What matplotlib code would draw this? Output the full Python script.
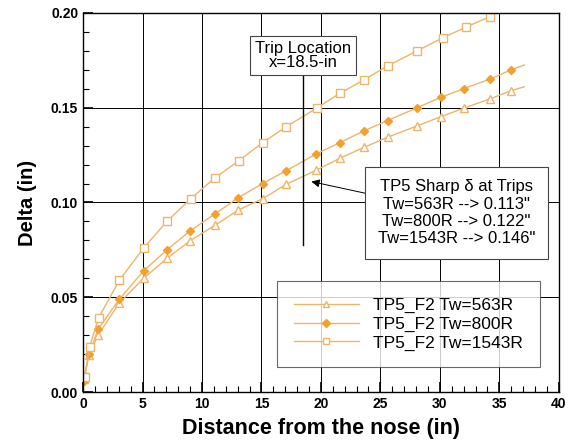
import numpy as np
import matplotlib.pyplot as plt

plt.rcParams['font.family'] = ['Liberation Sans', 'DejaVu Sans']

# Donnees
x_sq = [0.15, 0.55, 1.3, 3.05, 5.1, 7.05, 9.05, 11.1, 13.1, 15.1, 17.1, 19.7,
        21.6, 23.6, 25.6, 28.1, 30.3, 32.2, 34.2, 37.0]
y_sq = [0.008, 0.024, 0.039, 0.059, 0.076, 0.090, 0.102, 0.113, 0.122, 0.1316,
        0.140, 0.150, 0.1576, 0.1646, 0.172, 0.180, 0.187, 0.1925, 0.198, 0.207]

x_mid = [0.05, 0.5, 1.25, 3.05, 5.1, 7.05, 9.0, 11.1, 13.05, 15.1, 17.1, 19.6,
         21.6, 23.6, 25.6, 28.1, 30.1, 32.0, 34.2, 36.0, 37.1]
y_dia = [0.006, 0.020, 0.033, 0.049, 0.064, 0.075, 0.085, 0.094, 0.1025, 0.110,
         0.1168, 0.1256, 0.1316, 0.1377, 0.1432, 0.150, 0.1555, 0.160, 0.165,
         0.170, 0.1725]
y_tri = [0.007, 0.0195, 0.030, 0.047, 0.060, 0.0705, 0.0798, 0.088, 0.096, 0.102,
         0.1096, 0.117, 0.1233, 0.129, 0.1344, 0.1404, 0.1453, 0.1497, 0.1546,
         0.159, 0.161]

c_clair = '#f0b468'
c_fonce = '#f5a02a'

fig = plt.figure(figsize=(5.69, 4.44), dpi=100)
ax = fig.add_axes([0.146, 0.117, 0.836, 0.854])

ax.plot(x_mid, y_tri, color=c_clair, lw=1, marker='^', ms=5.5, mfc='white',
        mec=c_clair, markevery=slice(0, -1), label='TP5_F2 Tw=563R')
ax.plot(x_mid, y_dia, color=c_clair, lw=1, marker='D', ms=4.5, mfc=c_fonce,
        mec=c_fonce, markevery=slice(0, -1), label='TP5_F2 Tw=800R')
ax.plot(x_sq, y_sq, color=c_clair, lw=1, marker='s', ms=5.5, mfc='white',
        mec=c_clair, markevery=slice(0, -1), label='TP5_F2 Tw=1543R')

ax.set_xlim(0, 40)
ax.set_ylim(0, 0.2)
ax.set_xticks(np.arange(0, 41, 5))
ax.set_xticks(np.arange(0, 41, 1), minor=True)
ax.set_yticks(np.arange(0, 0.201, 0.05))
ax.set_yticks(np.arange(0, 0.201, 0.01), minor=True)
ax.set_yticklabels(['0.00', '0.05', '0.10', '0.15', '0.20'])
ax.tick_params(which='both', direction='in', top=False, right=False)
ax.tick_params(which='major', length=7, width=1.2, labelsize=10)
ax.tick_params(which='minor', length=4, width=0.8)
for lab in ax.get_xticklabels() + ax.get_yticklabels():
    lab.set_fontweight('bold')
ax.grid(True, which='major', color='black', lw=0.7)
ax.set_axisbelow(True)
for sp in ax.spines.values():
    sp.set_linewidth(1.0)

ax.set_xlabel('Distance from the nose (in)', fontsize=15.5, fontweight='bold', labelpad=5)
ax.set_ylabel('Delta (in)', fontsize=14.5, fontweight='bold', labelpad=10)

# Trip location
ax.plot([18.5, 18.5], [0.0776, 0.167], color='black', lw=1)
ax.text(18.5, 0.1775, 'Trip Location\nx=18.5-in', ha='center', va='center',
        fontsize=12, linespacing=0.95,
        bbox=dict(boxstyle='square,pad=0.3', fc='white', ec='#444444', lw=0.8))

ax.annotate('TP5 Sharp \u03b4 at Trips\nTw=563R --> 0.113"\nTw=800R --> 0.122"\nTw=1543R --> 0.146"',
            xy=(19.2, 0.111), xytext=(31.4, 0.0945), ha='center', va='center',
            fontsize=12, linespacing=1.2,
            bbox=dict(boxstyle='square,pad=0.75', fc='white', ec='#444444', lw=0.8),
            arrowprops=dict(arrowstyle='-|>', color='black', lw=0.7,
                            shrinkA=0, shrinkB=0, mutation_scale=12))

leg = ax.legend(loc='lower right', bbox_to_anchor=(0.96, 0.066), borderaxespad=0,
                fontsize=12.5, handlelength=3.8, frameon=True, fancybox=False,
                edgecolor='#444444', borderpad=0.95, labelspacing=0.2,
                handletextpad=0.8, markerscale=0.85)
leg.get_frame().set_linewidth(0.8)

fig.savefig('out.png', dpi=100)
